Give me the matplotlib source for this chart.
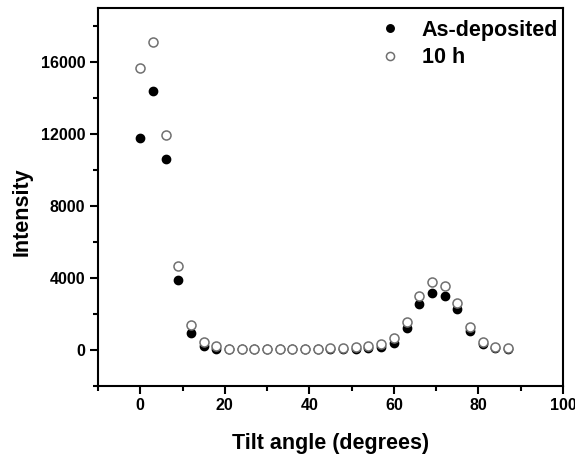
import matplotlib
matplotlib.use("Agg")
import matplotlib.pyplot as plt
from matplotlib.ticker import MultipleLocator

plt.rcParams['font.family'] = ['Liberation Sans', 'DejaVu Sans']
plt.rcParams['font.weight'] = 'bold'

# tilt angles, every 3 degrees
angle = [0, 3, 6, 9, 12, 15, 18, 21, 24, 27, 30, 33, 36, 39, 42, 45, 48, 51, 54, 57,
         60, 63, 66, 69, 72, 75, 78, 81, 84, 87]

as_dep = [11750, 14390, 10590, 3900, 960, 240, 60, 40, 40, 40, 40, 40, 40, 40, 40, 50, 50, 60, 90, 150,
          410, 1200, 2570, 3170, 2980, 2280, 1040, 310, 110, 50]

h10 = [15670, 17130, 11930, 4670, 1410, 460, 240, 80, 70, 70, 70, 70, 70, 70, 70, 90, 90, 150, 220, 310,
       650, 1530, 3000, 3760, 3560, 2630, 1280, 460, 150, 90]

fig = plt.figure(figsize=(5.75, 4.57), dpi=100)
ax = fig.add_axes([0.1704, 0.1554, 0.8086, 0.8271])

ax.plot(angle, as_dep, 'o', color='black', ms=6, label='As-deposited', zorder=2)
ax.plot(angle, h10, 'o', mfc='white', mec='#707070', mew=1.1, ms=6.5, label='10 h', zorder=3)

ax.set_xlim(-10, 100)
ax.set_ylim(-2000, 19000)
ax.xaxis.set_major_locator(MultipleLocator(20))
ax.xaxis.set_minor_locator(MultipleLocator(10))
ax.yaxis.set_major_locator(MultipleLocator(4000))
ax.yaxis.set_minor_locator(MultipleLocator(2000))

for s in ax.spines.values():
    s.set_linewidth(1.5)
ax.tick_params(which='major', direction='out', length=6, width=1.5, labelsize=11.5, pad=3)
ax.tick_params(which='minor', direction='out', length=3.5, width=1.5)

ax.set_xlabel('Tilt angle (degrees)', fontsize=15.5, fontweight='bold', labelpad=14)
ax.set_ylabel('Intensity', fontsize=15.5, fontweight='bold')
ax.yaxis.set_label_coords(-0.14, 0.46)

leg = ax.legend(loc='upper right', bbox_to_anchor=(1.008, 0.992), frameon=False, fontsize=15.5,
                handletextpad=0.79, borderaxespad=0, labelspacing=0.3, handlelength=1.4,
                markerscale=0.9)

fig.savefig('out.png', dpi=100)
